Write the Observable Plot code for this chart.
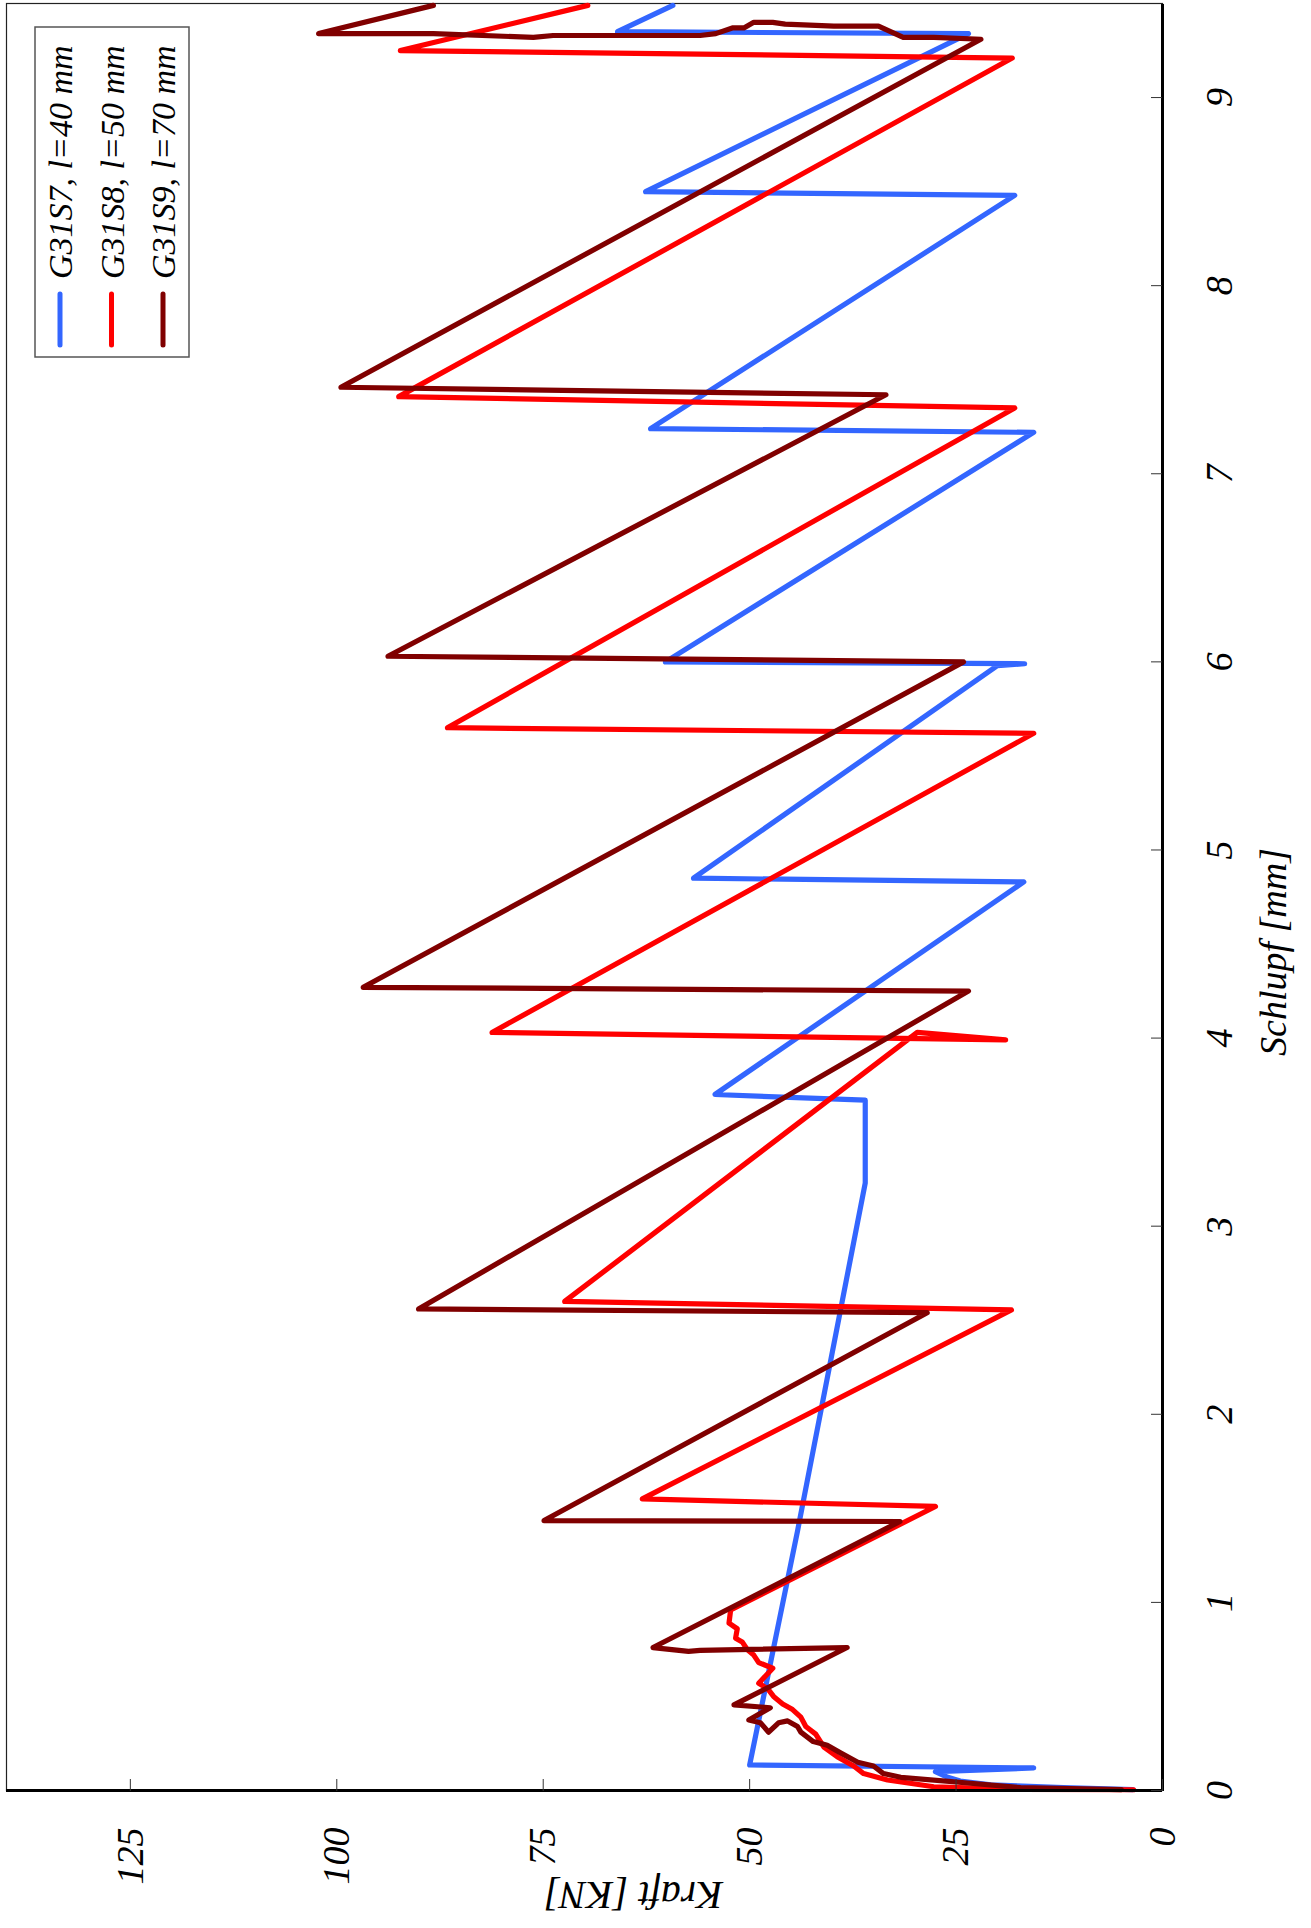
<!DOCTYPE html>
<html>
<head>
<meta charset="utf-8">
<script src="https://cdn.jsdelivr.net/npm/d3@7"></script>
<script src="https://cdn.jsdelivr.net/npm/@observablehq/plot@0.6"></script>
<style>
html, body { margin: 0; padding: 0; background: #fff; overflow: hidden; }
#wrap { position: relative; width: 1311px; height: 1928px; overflow: hidden; background: #fff; }
#chart { position: absolute; left: 0; top: 0; width: 1928px; height: 1311px; transform-origin: 0 0; transform: translateY(1928px) rotate(-90deg); }
</style>
</head>
<body>
<div id="wrap"><div id="chart"></div></div>
<script>
// ---- data (Schlupf [mm], Kraft [KN]) ----
const seriesNames = ["G31S7, l=40 mm", "G31S8, l=50 mm", "G31S9, l=70 mm"];
const seriesColors = ["#3366ff", "#ff0000", "#800000"];
const slipTicks = [0, 1, 2, 3, 4, 5, 6, 7, 8, 9];
const forceTicks = [0, 25, 50, 75, 100, 125];
const xLabel = "Schlupf [mm]";
const yLabel = "Kraft [KN]";

const s7Slip  = [0.005, 0.015, 0.03, 0.05, 0.07, 0.10, 0.12, 0.136, 1.38, 3.23, 3.67, 3.70, 4.83, 4.85, 5.98, 5.99, 6.00, 7.22, 7.24, 8.48, 8.50, 9.34, 9.35, 9.49];
const s7Force = [3.6, 12, 20.8, 24.5, 26, 27.5, 15.6, 50, 44.2, 36, 36, 54.2, 16.8, 56.8, 20, 16.7, 60.2, 15.6, 62, 17.9, 62.6, 23.5, 66, 59.3];

const s8Slip  = [0.004, 0.006, 0.02, 0.056, 0.09, 0.13, 0.18, 0.23, 0.30, 0.34, 0.39, 0.43, 0.46, 0.50, 0.54, 0.57, 0.65, 0.68, 0.72, 0.75, 0.79, 0.81, 0.86, 0.89, 0.96, 1.51, 1.55, 2.555, 2.60, 4.03, 3.99, 4.03, 5.62, 5.65, 7.35, 7.41, 9.21, 9.23, 9.25, 9.49];
const s8Force = [3.5, 17.2, 27.7, 33.3, 36.2, 37.4, 39.4, 41, 42, 43.2, 43.8, 44.8, 46, 47.1, 47.8, 48.9, 47.2, 48.9, 49.5, 50.3, 50.9, 51.7, 51.5, 52.5, 52.3, 27.5, 63, 18.3, 72.4, 29.7, 19, 81.2, 15.6, 86.6, 17.9, 92.5, 18.2, 53.5, 92.3, 69.6];

const s9Slip  = [0.005, 0.015, 0.04, 0.07, 0.09, 0.13, 0.15, 0.20, 0.24, 0.26, 0.31, 0.34, 0.37, 0.36, 0.31, 0.36, 0.375, 0.44, 0.455, 0.76, 0.745, 0.74, 0.76, 1.43, 1.435, 2.54, 2.56, 4.25, 4.27, 6.00, 6.03, 7.42, 7.46, 9.31, 9.32, 9.32, 9.38, 9.38, 9.39, 9.40, 9.40, 9.37, 9.37, 9.34, 9.33, 9.33, 9.32, 9.34, 9.34, 9.49];
const s9Force = [5, 17.2, 23.6, 31.7, 33.8, 35, 36.9, 39, 40.6, 42.3, 43.8, 44.2, 45.4, 46.5, 47.7, 48.7, 50.1, 47.5, 51.9, 38.2, 56, 57.4, 61.7, 31.8, 74.9, 28.5, 90.1, 23.5, 96.8, 24.1, 93.8, 33.5, 99.5, 22, 27.7, 31.4, 34.4, 39.8, 45.7, 47.2, 49.5, 50.7, 52.1, 54.1, 56, 73.8, 76.2, 88.3, 102.2, 88.3];

// ---- table for the library ----
const slips = [s7Slip, s8Slip, s9Slip];
const forces = [s7Force, s8Force, s9Force];
const rows = [];
seriesNames.forEach((name, i) => {
  slips[i].forEach((s, j) => rows.push({series: name, s, k: forces[i][j]}));
});

const serif = "'Liberation Serif', 'Times New Roman', Times, serif";

const chart = Plot.plot({
  width: 1928,
  height: 1311,
  marginLeft: 137,
  marginRight: 4,
  marginTop: 6,
  marginBottom: 149,
  style: {fontFamily: serif, background: "#fff", color: "#000"},
  x: {domain: [0, 9.5]},
  y: {domain: [0, 140]},
  color: {domain: seriesNames, range: seriesColors},
  marks: [
    Plot.frame({stroke: "#222", strokeWidth: 1.2}),
    Plot.line(rows, {x: "s", y: "k", z: "series", stroke: "series", strokeWidth: 5.2, strokeLinejoin: "round", strokeLinecap: "round"}),
    Plot.ruleX([slipTicks[0]], {stroke: "#000", strokeWidth: 3}),
    Plot.ruleY([forceTicks[0]], {stroke: "#000", strokeWidth: 3}),
    Plot.axisX(slipTicks, {tickSize: -11, tickPadding: 54, fontSize: 38, fontStyle: "italic", label: null, tickFormat: d => String(d), stroke: "#333"}),
    Plot.axisY(forceTicks, {tickSize: -12, tickPadding: 49, fontSize: 38, fontStyle: "italic", label: null, tickFormat: d => String(d), stroke: "#333"}),
    Plot.text([xLabel], {text: d => d, frameAnchor: "bottom", dx: -55, dy: 111, fontSize: 38, fontStyle: "italic", lineAnchor: "middle", textAnchor: "middle"}),
    Plot.text([yLabel], {text: d => d, frameAnchor: "left", rotate: -90, dx: -104, dy: 49, fontSize: 40, fontStyle: "italic", lineAnchor: "middle", textAnchor: "middle"})
  ]
});

// ---- legend (drawn inside the svg so it rotates with the chart) ----
const svg = d3.select(chart);
const lg = svg.append("g").attr("class", "legend");
lg.append("rect")
  .attr("x", 1571).attr("y", 35).attr("width", 330).attr("height", 154)
  .attr("fill", "#fff").attr("stroke", "#555").attr("stroke-width", 1.5);
seriesNames.forEach((name, i) => {
  const cy = 60 + i * 51.5;
  lg.append("line")
    .attr("x1", 1583).attr("x2", 1634).attr("y1", cy).attr("y2", cy)
    .attr("stroke", seriesColors[i]).attr("stroke-width", 5).attr("stroke-linecap", "round");
  lg.append("text")
    .attr("x", 1649).attr("y", cy + 12)
    .attr("text-anchor", "start")
    .attr("font-family", serif).attr("font-style", "italic").attr("font-size", 34)
    .attr("fill", "#000")
    .text(name);
});

document.getElementById("chart").appendChild(chart);
</script>
</body>
</html>
